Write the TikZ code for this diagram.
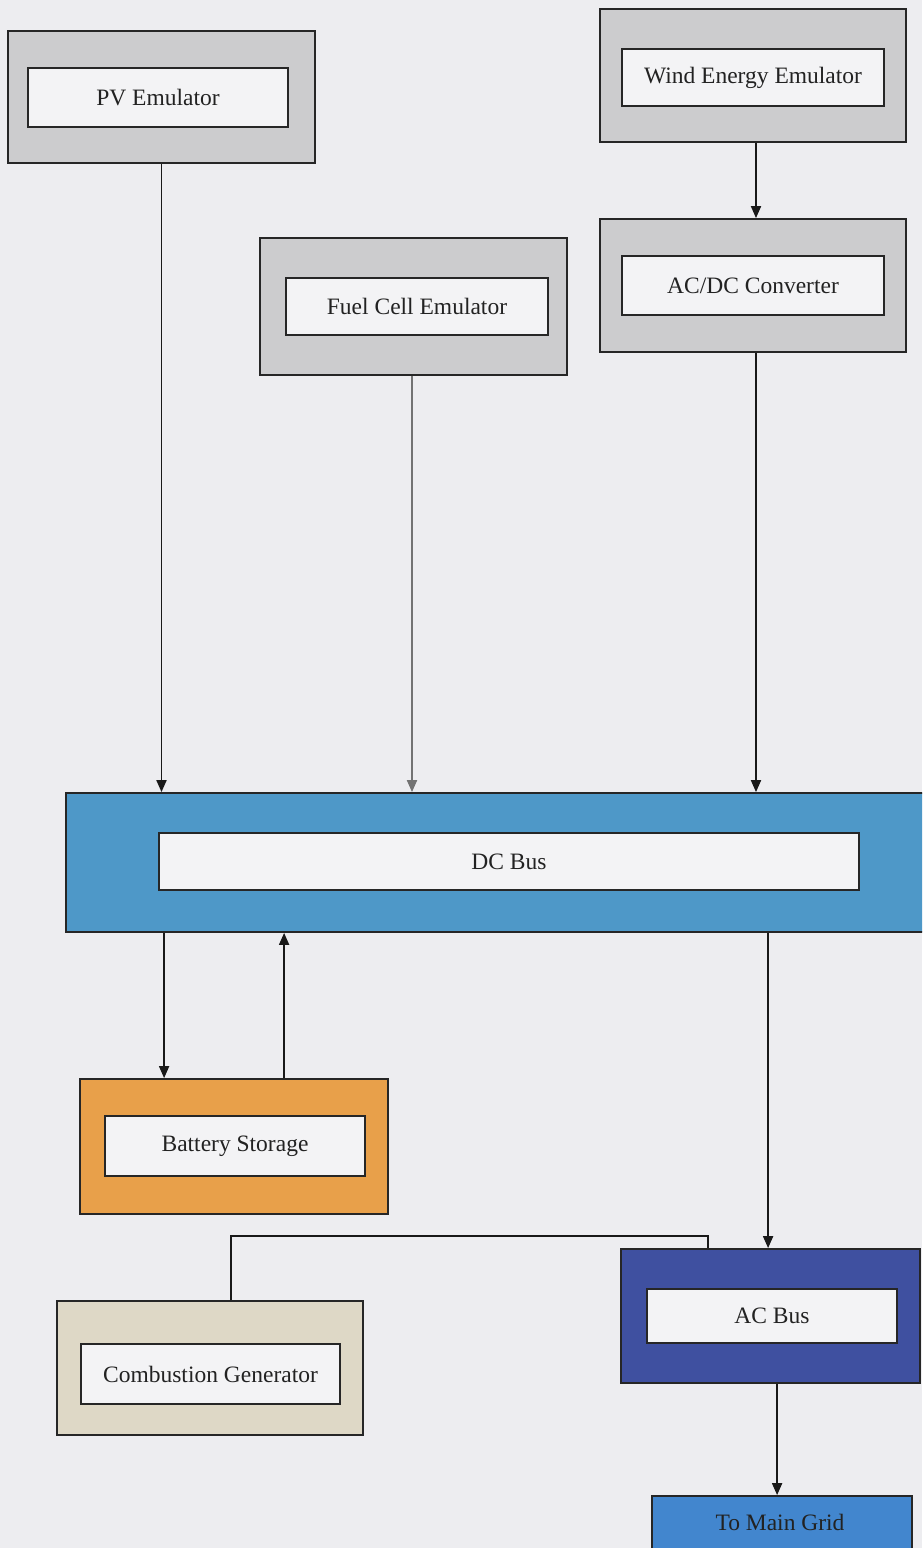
\documentclass[tikz,border=0pt]{standalone}
\usepackage{fontspec}
\setmainfont{Liberation Serif}
\usetikzlibrary{arrows.meta}
\definecolor{bgc}{RGB}{237,237,240}
\definecolor{boxgray}{RGB}{204,204,206}
\definecolor{dcblue}{RGB}{78,152,200}
\definecolor{batorange}{RGB}{232,160,74}
\definecolor{combbeige}{RGB}{222,216,198}
\definecolor{acblue}{RGB}{63,80,160}
\definecolor{gridblue}{RGB}{66,134,206}
\definecolor{innerfill}{RGB}{243,243,245}
\definecolor{txt}{RGB}{34,34,34}
\tikzset{
  outerbox/.style={draw=black!85, line width=1.8pt, inner sep=0pt, rectangle},
  innerbox/.style={draw=black!85, line width=1.8pt, inner sep=0pt, rectangle, fill=innerfill,
     font=\fontsize{23.5}{28}\selectfont, text=txt},
  arr/.style={draw=black!90, line width=1.8pt, -{Triangle[width=10pt,length=12pt]}},
  wire/.style={draw=black!90, line width=1.8pt},
}
\begin{document}
\begin{tikzpicture}[x=1pt,y=-1pt]
\fill[bgc] (0,0) rectangle (922,1548);
\useasboundingbox (0,0) rectangle (922,1548);
\clip (0,0) rectangle (922,1548);

% outer boxes
\node[outerbox, fill=boxgray, minimum width=307pt, minimum height=132pt] (pvo) at (161.5,97) {};
\node[innerbox, minimum width=260pt, minimum height=59pt] (pv) at (158,97.5) {PV Emulator};

\node[outerbox, fill=boxgray, minimum width=306pt, minimum height=133pt] (windo) at (753,75.5) {};
\node[innerbox, minimum width=262pt, minimum height=57pt] (wind) at (753,77.5) {Wind Energy Emulator};

\node[outerbox, fill=boxgray, minimum width=306pt, minimum height=133pt] (acdco) at (753,285.5) {};
\node[innerbox, minimum width=262pt, minimum height=59pt] (acdc) at (753,285.5) {AC/DC Converter};

\node[outerbox, fill=boxgray, minimum width=307pt, minimum height=137pt] (fuelo) at (413.5,306.5) {};
\node[innerbox, minimum width=262pt, minimum height=57pt] (fuel) at (417,306.5) {Fuel Cell Emulator};

\node[outerbox, fill=dcblue, minimum width=864pt, minimum height=139pt] (dco) at (498,862.5) {};
\node[innerbox, minimum width=700pt, minimum height=57pt] (dc) at (509,861.5) {DC Bus};

\node[outerbox, fill=batorange, minimum width=308pt, minimum height=135pt] (bato) at (234,1146.5) {};
\node[innerbox, minimum width=260pt, minimum height=60pt] (bat) at (235,1146) {Battery Storage};

\node[outerbox, fill=combbeige, minimum width=306pt, minimum height=134pt] (combo) at (210,1368) {};
\node[innerbox, minimum width=259pt, minimum height=60pt] (comb) at (210.5,1374) {Combustion Generator};

\node[outerbox, fill=acblue, minimum width=299pt, minimum height=134pt] (aco) at (770.5,1316) {};
\node[innerbox, minimum width=250pt, minimum height=54pt] (ac) at (772,1316) {AC Bus};

\node[outerbox, fill=gridblue, minimum width=260pt, minimum height=64pt] (grid) at (782,1528) {};
\node[text=txt, font=\fontsize{23.5}{28}\selectfont, inner sep=0pt] (gridlbl) at (780,1522) {To Main Grid};

% connectors
\draw[arr] (pvo.south) -- (pvo.south |- dco.north);
\draw[arr, draw=black!55] ([xshift=-1.5pt]fuelo.south) coordinate (f1) -- (f1 |- dco.north);
\draw[arr] ([xshift=3pt]windo.south) coordinate (w1) -- (w1 |- acdco.north);
\draw[arr] ([xshift=3pt]acdco.south) coordinate (a1) -- (a1 |- dco.north);

\draw[arr] ([xshift=99pt]dco.south west) coordinate (d1) -- (d1 |- bato.north);
\draw[arr] ([xshift=205pt]bato.north west) coordinate (b1) -- (b1 |- dco.south);
\draw[arr] ([xshift=703pt]dco.south west) coordinate (d2) -- (d2 |- aco.north);

\coordinate (jn) at (708,1236);
\draw[wire] ([xshift=175pt]combo.north west) coordinate (c1) -- (c1 |- jn) -- (jn) -- (jn |- aco.north);

\draw[arr] ([xshift=157pt]aco.south west) coordinate (g1) -- (g1 |- grid.north);
\end{tikzpicture}
\end{document}
